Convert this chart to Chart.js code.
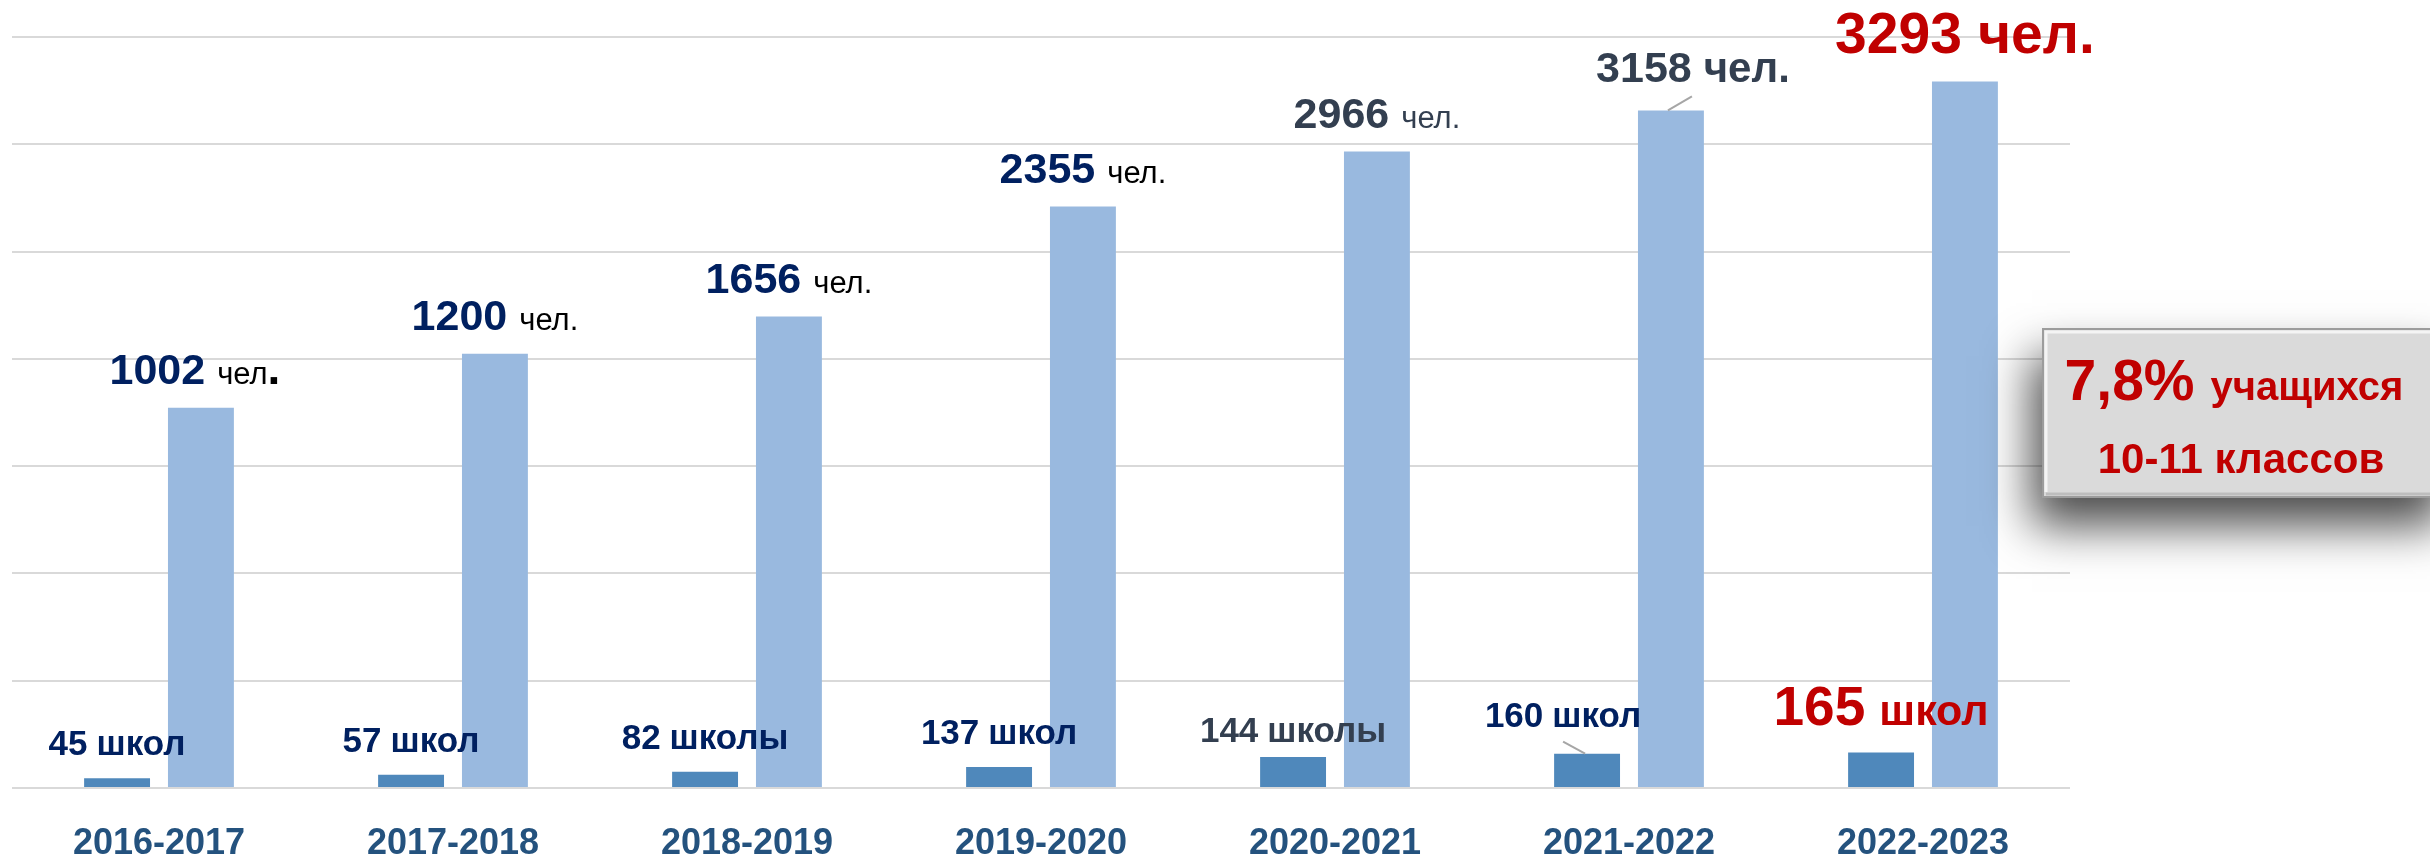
<!DOCTYPE html>
<html>
<head>
<meta charset="utf-8">
<script src="https://cdn.jsdelivr.net/npm/chart.js@4.4.1/dist/chart.umd.min.js"></script>
<style>
  html, body { margin: 0; padding: 0; background: #ffffff; }
  #wrap { width: 2430px; height: 856px; position: relative; }
  canvas { display: block; }
</style>
</head>
<body>
<div id="wrap"><canvas id="c" width="2430" height="856"></canvas></div>
<script>
// ---- data ----
const years = ['2016-2017', '2017-2018', '2018-2019', '2019-2020', '2020-2021', '2021-2022', '2022-2023'];
// bar heights as drawn in the picture
const schoolBars  = [45, 62, 76, 98, 144, 160, 165];
const studentBars = [1772, 2024, 2197, 2710, 2966, 3158, 3293];
// values printed in the data labels
const schoolCounts  = [45, 57, 82, 137, 144, 160, 165];
const studentCounts = [1002, 1200, 1656, 2355, 2966, 3158, 3293];
const schoolWords   = ['школ', 'школ', 'школы', 'школ', 'школы', 'школ', 'школ'];
const studentUnit   = 'чел.';
const yMin = 0, yMax = 3500, yStep = 500;
const noteLine1 = ['7,8%', 'учащихся'];
const noteLine2 = '10-11 классов';

// ---- styles ----
const FONT = "'Liberation Sans', Arial, sans-serif";
const NAVY = '#002060', SLATE = '#333F50', RED = '#C00000';
const schoolStyle = [
  {}, {}, {}, {},
  { color: SLATE, dy: 8 },
  { dx: -24, dy: -4, leader: true },
  { color: RED, numSize: 55, wordSize: 43, dy: -5 }
];
const studentStyle = [
  { boldDot: true }, {}, {}, {},
  { color: SLATE, unitColor: SLATE },
  { color: SLATE, unitColor: SLATE, unitBold: true, unitSize: 42, dx: 22, dy: -4, leader: true },
  { color: RED, unitColor: RED, unitBold: true, numSize: 57, unitSize: 57, dy: -4 }
];

function drawParts(ctx, cx, baseline, parts, gap) {
  let total = 0;
  const widths = parts.map(p => { ctx.font = p.font; const w = ctx.measureText(p.text).width; total += w; return w; });
  total += gap * (parts.length - 1);
  let x = cx - total / 2;
  ctx.textBaseline = 'alphabetic';
  ctx.textAlign = 'left';
  parts.forEach((p, i) => {
    ctx.font = p.font; ctx.fillStyle = p.color;
    ctx.fillText(p.text, x, baseline);
    x += widths[i] + (p.noGap ? 0 : gap);
  });
}

const labelPlugin = {
  id: 'labels',
  afterDatasetsDraw(chart) {
    const ctx = chart.ctx;
    const dark = chart.getDatasetMeta(0).data;
    const light = chart.getDatasetMeta(1).data;
    ctx.save();
    // student labels
    light.forEach((bar, i) => {
      const s = studentStyle[i] || {};
      const numSize = s.numSize || 43, unitSize = s.unitSize || 31;
      const cx = bar.x + (s.dx || 0);
      const base = bar.y - 24 + (s.dy || 0);
      const parts = [{ text: String(studentCounts[i]), font: `bold ${numSize}px ${FONT}`, color: s.color || NAVY }];
      if (s.boldDot) {
        parts.push({ text: 'чел', font: `${unitSize}px ${FONT}`, color: '#000000', noGap: true });
        parts.push({ text: '.', font: `bold 46px ${FONT}`, color: '#000000' });
      } else {
        parts.push({ text: studentUnit, font: `${s.unitBold ? 'bold ' : ''}${unitSize}px ${FONT}`, color: s.unitColor || '#000000' });
      }
      drawParts(ctx, cx, base, parts, Math.round(numSize * 0.28));
      if (s.leader) {
        ctx.strokeStyle = '#A6A6A6'; ctx.lineWidth = 2;
        ctx.beginPath(); ctx.moveTo(bar.x - 3, bar.y); ctx.lineTo(bar.x + 21, bar.y - 14); ctx.stroke();
      }
    });
    // school labels
    dark.forEach((bar, i) => {
      const s = schoolStyle[i] || {};
      const numSize = s.numSize || 35, wordSize = s.wordSize || 35;
      const cx = bar.x + (s.dx || 0);
      const base = bar.y - 23 + (s.dy || 0);
      const col = s.color || NAVY;
      drawParts(ctx, cx, base, [
        { text: String(schoolCounts[i]), font: `bold ${numSize}px ${FONT}`, color: col },
        { text: schoolWords[i], font: `bold ${wordSize}px ${FONT}`, color: col }
      ], Math.round(Math.max(numSize, wordSize) * 0.26));
      if (s.leader) {
        ctx.strokeStyle = '#A6A6A6'; ctx.lineWidth = 2;
        ctx.beginPath(); ctx.moveTo(bar.x - 24, bar.y - 12); ctx.lineTo(bar.x - 2, bar.y); ctx.stroke();
      }
    });
    ctx.restore();
  },
  afterDraw(chart) {
    const ctx = chart.ctx;
    const bx = 2042, by = 328, bw = 410, bh = 170;
    ctx.save();
    // shadow
    ctx.shadowColor = 'rgba(0,0,0,0.7)';
    ctx.shadowBlur = 44;
    ctx.shadowOffsetX = -10;
    ctx.shadowOffsetY = 28;
    ctx.fillStyle = '#D9D9D9';
    ctx.fillRect(bx, by, bw, bh);
    ctx.restore();
    ctx.save();
    ctx.fillStyle = '#DADADA';
    ctx.fillRect(bx, by, bw, bh);
    // bevel
    ctx.strokeStyle = '#F4F4F4'; ctx.lineWidth = 3;
    ctx.beginPath(); ctx.moveTo(bx + 4, by + bh - 6); ctx.lineTo(bx + 4, by + 4); ctx.lineTo(bx + bw, by + 4); ctx.stroke();
    ctx.strokeStyle = '#BDBDBD'; ctx.lineWidth = 3;
    ctx.beginPath(); ctx.moveTo(bx + 4, by + bh - 4); ctx.lineTo(bx + bw, by + bh - 4); ctx.stroke();
    ctx.strokeStyle = '#9C9C9C'; ctx.lineWidth = 2;
    ctx.strokeRect(bx + 1, by + 1, bw, bh - 2);
    // text
    drawParts(ctx, 2234, 400, [
      { text: noteLine1[0], font: `bold 57px ${FONT}`, color: RED },
      { text: noteLine1[1], font: `bold 40px ${FONT}`, color: RED }
    ], 16);
    drawParts(ctx, 2241, 473, [{ text: noteLine2, font: `bold 42px ${FONT}`, color: RED }], 0);
    ctx.restore();
  }
};

new Chart(document.getElementById('c'), {
  type: 'bar',
  data: {
    labels: years,
    datasets: [
      { label: 'Школы', data: schoolBars, backgroundColor: '#4F88BB', borderWidth: 0,
        categoryPercentage: 0.5705, barPercentage: 0.786 },
      { label: 'Учащиеся', data: studentBars, backgroundColor: '#99B9DF', borderWidth: 0,
        categoryPercentage: 0.5705, barPercentage: 0.786 }
    ]
  },
  options: {
    responsive: false,
    devicePixelRatio: 1,
    animation: false,
    layout: { padding: { left: 12, right: 360, top: 37, bottom: 0 } },
    plugins: { legend: { display: false }, tooltip: { enabled: false } },
    scales: {
      x: {
        grid: { display: false, drawTicks: false },
        border: { display: false },
        ticks: { color: '#24527E', padding: 34, font: { family: FONT, size: 36, weight: 'bold' }, maxRotation: 0 },
        afterFit(scale) { scale.height = 68; }
      },
      y: {
        min: yMin, max: yMax,
        grid: { color: '#D9D9D9', lineWidth: 2, drawTicks: false },
        border: { display: false },
        ticks: { display: false, stepSize: yStep },
        afterFit(scale) { scale.width = 0; }
      }
    }
  },
  plugins: [labelPlugin]
});
</script>
</body>
</html>
